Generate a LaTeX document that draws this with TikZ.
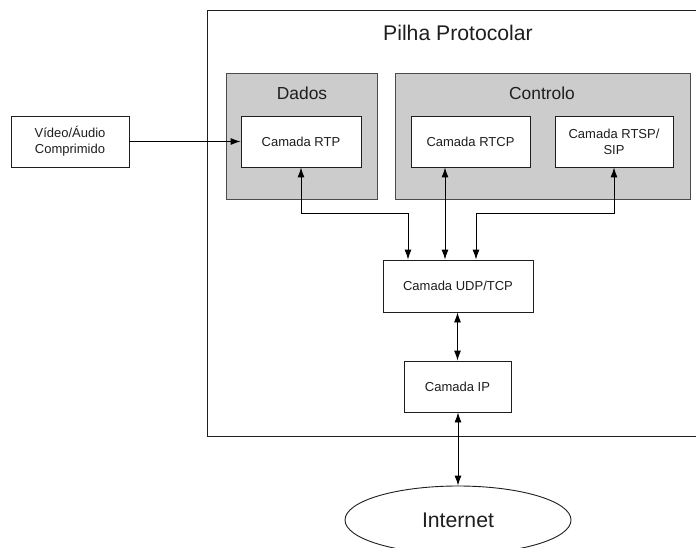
\documentclass[tikz,border=0pt]{standalone}
\usepackage{fontspec}
\setmainfont{Liberation Sans}
\usetikzlibrary{arrows.meta,shapes.geometric}
\definecolor{groupfill}{RGB}{204,204,204}
\definecolor{ink}{RGB}{30,30,30}
\begin{document}
\begin{tikzpicture}[x=1pt,y=-1pt,
  every node/.style={text=ink},
  layer/.style={draw=ink,fill=white,line width=0.9pt,minimum height=51pt,align=center,
    font=\fontsize{13}{16}\selectfont,inner sep=0pt},
  group/.style={draw=ink!80,fill=groupfill,line width=0.9pt,inner sep=0pt},
  link/.style={draw=black,line width=0.9pt,{Latex[length=10pt,width=7pt]}-{Latex[length=10pt,width=7pt]}},
  feed/.style={draw=black,line width=0.9pt,-{Latex[length=10pt,width=7pt]}}]
\clip (0,0) rectangle (696,548);
\fill[white] (0,0) rectangle (696,548);

% protocol stack frame (runs off the right edge)
\draw[ink,line width=0.9pt] (720,10) -- (207,10) -- (207,436) -- (720,436);
\node[font=\fontsize{21.2}{24}\selectfont] (title) at (458,33) {Pilha Protocolar};

% groups
\node[group,minimum width=151pt,minimum height=126pt] (dados) at (301.5,136) {};
\node[group,minimum width=295pt,minimum height=126pt] (controlo) at (542.5,136) {};
\node[font=\fontsize{17.4}{20}\selectfont] (dadoslbl) at (302,93) {Dados};
\node[font=\fontsize{17.4}{20}\selectfont] (contrololbl) at (542,93) {Controlo};

% layers
\node[layer,minimum width=120pt] (rtp) at (301,141.5) {Camada RTP};
\node[layer,minimum width=119pt] (rtcp) at (470.5,141.5) {Camada RTCP};
\node[layer,minimum width=118pt] (rtsp) at (614,141.5) {Camada RTSP/\\SIP};
\node[layer,minimum width=150pt,minimum height=52pt] (udp) at (458,286) {Camada UDP/TCP};
\node[layer,minimum width=107pt] (ip) at (457.5,386.5) {Camada IP};
\node[layer,minimum width=118pt] (media) at (70,141.5) {Vídeo/Áudio\\Comprimido};
\node[ellipse,draw=ink,line width=0.9pt,minimum width=226pt,minimum height=68pt,inner sep=0pt,
  font=\fontsize{21.2}{24}\selectfont] (internet) at (458,520) {Internet};

% junction points of the bent connectors
\coordinate (jl) at (408,213);
\coordinate (jr) at (476,213);

% connectors
\draw[feed] (media.east) -- (rtp.west);
\draw[link] (rtp.south) |- (jl) -- (jl |- udp.north);
\draw[link] (rtcp.south -| 445,0) -- (udp.north -| 445,0);
\draw[link] (rtsp.south) |- (jr) -- (jr |- udp.north);
\draw[link] (udp.south -| ip.north) -- (ip.north);
\draw[link] (ip.south -| 458,0) -- (internet.north);
\end{tikzpicture}
\end{document}
